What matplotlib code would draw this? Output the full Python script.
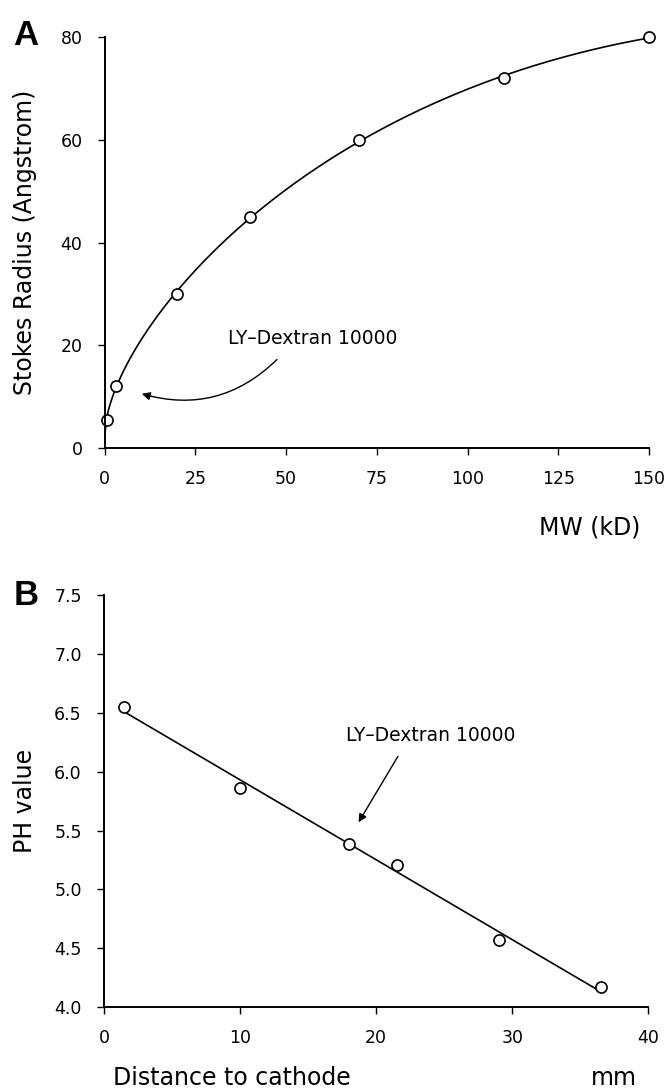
import numpy as np
import matplotlib
matplotlib.use("Agg")
import matplotlib.pyplot as plt

# panel A: Stokes radius vs molecular weight
mw = [0.5, 3, 20, 40, 70, 110, 150]
radius = [5.5, 12, 30, 45, 60, 72, 80]

# panel B: pH vs distance to cathode
dist = [1.5, 10, 18, 21.5, 29, 36.5]
ph = [6.55, 5.86, 5.39, 5.21, 4.57, 4.17]

plt.rcParams['font.family'] = ['DejaVu Sans']

fig = plt.figure(figsize=(6.67, 10.9), dpi=100)

# ---- A ----
axA = fig.add_axes([0.157, 0.589, 0.816, 0.377])
# smooth curve: least squares fit in sqrt(MW)
c = np.polyfit(np.sqrt(mw), radius, 3)
xs = np.linspace(0, 150, 300)
axA.plot(xs, np.polyval(c, np.sqrt(xs)), color='black', lw=1.2)
axA.plot(mw, radius, 'o', mfc='white', mec='black', ms=8, mew=1.2, clip_on=False)
axA.set_xlim(0, 150)
axA.set_ylim(0, 80)
axA.set_xticks([0, 25, 50, 75, 100, 125, 150])
axA.set_yticks([0, 20, 40, 60, 80])
axA.set_ylabel("Stokes Radius (Angstrom)", fontsize=17)
axA.yaxis.set_label_coords(-0.125, 0.5)
axA.annotate("LY\u2013Dextran 10000", xy=(9.5, 10.7), xytext=(34, 21.3),
             fontsize=13.5, va='center', ha='left')
axA.annotate("", xy=(9.5, 10.7), xytext=(48, 17.6),
             arrowprops=dict(arrowstyle='-|>', color='black', lw=1,
                             connectionstyle='arc3,rad=-0.3', mutation_scale=12))
fig.text(0.96, 0.516, "MW (kD)", fontsize=17, ha='right', va='center')
fig.text(0.02, 0.967, "A", fontsize=25, fontweight='bold', va='center',
         family='Liberation Sans')

# ---- B ----
axB = fig.add_axes([0.156, 0.076, 0.816, 0.378])
k = np.polyfit(dist, ph, 1)
xl = np.array([dist[0], dist[-1]])
axB.plot(xl, np.polyval(k, xl), color='black', lw=1.2)
axB.plot(dist, ph, 'o', mfc='white', mec='black', ms=8, mew=1.2, clip_on=False)
axB.set_xlim(0, 40)
axB.set_ylim(4.0, 7.5)
axB.set_xticks([0, 10, 20, 30, 40])
axB.set_yticks(np.arange(4.0, 7.51, 0.5))
axB.set_yticklabels(["4.0", "4.5", "5.0", "5.5", "6.0", "6.5", "7.0", "7.5"])
axB.set_ylabel("PH value", fontsize=17)
axB.yaxis.set_label_coords(-0.123, 0.5)
axB.annotate("LY\u2013Dextran 10000", xy=(18.6, 5.55), xytext=(17.8, 6.31),
             fontsize=13.5, va='center', ha='left')
axB.annotate("", xy=(18.6, 5.55), xytext=(21.7, 6.15),
             arrowprops=dict(arrowstyle='-|>', color='black', lw=1, mutation_scale=12))
fig.text(0.17, 0.011, "Distance to cathode", fontsize=17, ha='left', va='center')
fig.text(0.955, 0.011, "mm", fontsize=17, ha='right', va='center')
fig.text(0.02, 0.454, "B", fontsize=25, fontweight='bold', va='center',
         family='Liberation Sans')

for ax in (axA, axB):
    ax.spines['top'].set_visible(False)
    ax.spines['right'].set_visible(False)
    ax.spines['left'].set_linewidth(1.4)
    ax.spines['bottom'].set_linewidth(1.4)
    ax.tick_params(direction='out', length=5, width=1, labelsize=12.5, pad=11)
    ax.patch.set_alpha(0)

fig.savefig("out.png", dpi=100)
